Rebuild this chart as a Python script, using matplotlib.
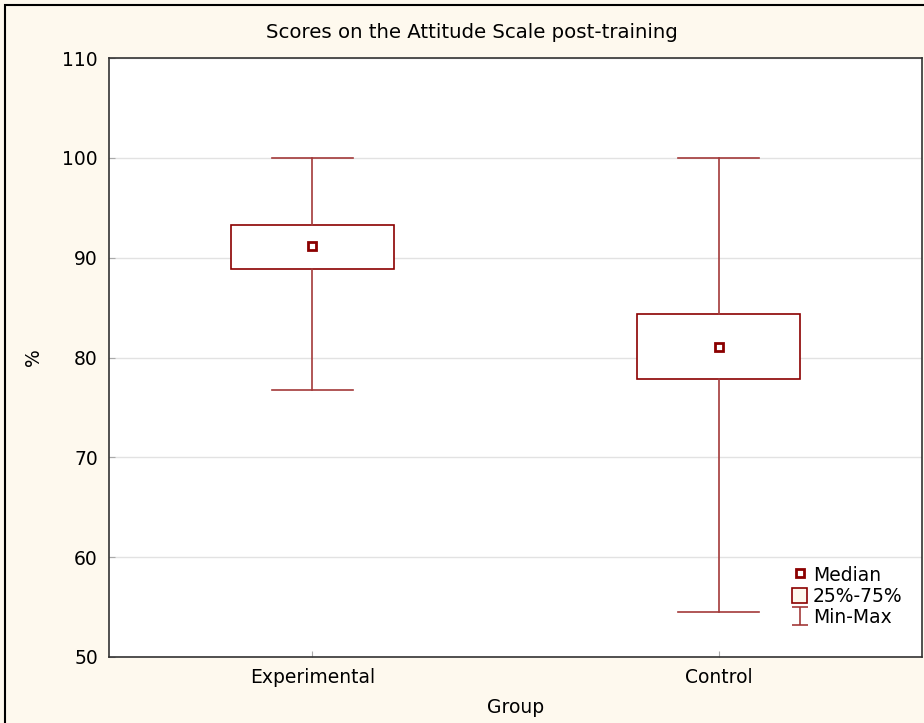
import matplotlib
matplotlib.use("Agg")
import matplotlib.pyplot as plt
from matplotlib.lines import Line2D
from matplotlib.patches import Patch, Rectangle
from matplotlib.path import Path

# Summary statistics per group (% scores)
groups = ["Experimental", "Control"]
minimum = [76.7, 54.5]
q1 = [88.9, 77.8]
median = [91.2, 81.1]
q3 = [93.3, 84.4]
maximum = [100.0, 100.0]

title = "Scores on the Attitude Scale post-training"
xlabel = "Group"
ylabel = "%"
yticks = [50, 60, 70, 80, 90, 100, 110]

RED = "#8B0000"
WHISK = "#A33A3A"
BG = "#FEF9EE"

plt.rcParams["font.family"] = ["DejaVu Sans"]

fig = plt.figure(figsize=(9.24, 7.23), dpi=100, facecolor=BG)
ax = fig.add_axes([109 / 924, 1 - 657 / 723, 813 / 924, 599 / 723])
ax.set_facecolor("white")

# outer frame around the figure
fig.patches.append(Rectangle((5 / 924, -0.1), 1.2, 1 - 5 / 723 + 0.1,
                             transform=fig.transFigure, fill=False,
                             edgecolor="black", linewidth=1.5, zorder=0))

stats = []
for i, g in enumerate(groups):
    stats.append(dict(label=g, whislo=minimum[i], q1=q1[i], med=median[i],
                      q3=q3[i], whishi=maximum[i], fliers=[]))

positions = list(range(len(groups)))
ax.bxp(stats, positions=positions, widths=0.4, showfliers=False,
       patch_artist=True,
       boxprops=dict(facecolor="white", edgecolor=RED, linewidth=1.2),
       whiskerprops=dict(color=WHISK, linewidth=1.2),
       capprops=dict(color=WHISK, linewidth=1.2),
       medianprops=dict(linewidth=0), capwidths=0.2, zorder=3)

ax.plot(positions, median, linestyle="none", marker="s", markersize=6,
        markerfacecolor="white", markeredgecolor=RED, markeredgewidth=2,
        zorder=4)

ax.set_xlim(-0.5, 1.5)
ax.set_ylim(50, 110)
ax.set_yticks(yticks)
ax.set_xticks(positions)
ax.set_xticklabels(groups)
ax.yaxis.grid(True, color="#E2E2E2", linewidth=1)
ax.set_axisbelow(True)
ax.tick_params(axis="both", direction="in", length=4, color="#AAAAAA",
               labelsize=13.5, pad=8)

for side in ["left", "bottom", "top", "right"]:
    ax.spines[side].set_color("#333333")
    ax.spines[side].set_linewidth(1.2)

fig.text(472 / 924, 1 - 33 / 723, title, fontsize=14.2,
         ha="center", va="center")
ax.set_xlabel(xlabel, fontsize=13.5, labelpad=8)
ax.set_ylabel(ylabel, fontsize=13.5, labelpad=14)

# I-beam glyph for the whisker entry
ibeam = Path([(-0.42, -0.5), (0.42, -0.5), (0, -0.5), (0, 0.5),
              (-0.42, 0.5), (0.42, 0.5)],
             [Path.MOVETO, Path.LINETO, Path.MOVETO, Path.LINETO,
              Path.MOVETO, Path.LINETO])
handles = [
    Line2D([], [], linestyle="none", marker="s", markersize=6,
           markerfacecolor="white", markeredgecolor=RED, markeredgewidth=2),
    Patch(facecolor=BG, edgecolor=RED, linewidth=1.2),
    Line2D([], [], linestyle="none", marker=ibeam, markersize=13,
           markeredgecolor=WHISK, markeredgewidth=1.2),
]
ax.legend(handles, ["Median", "25%-75%", "Min-Max"], loc="lower right",
          bbox_to_anchor=(0.992, 0.028), frameon=False, fontsize=13.5,
          handlelength=0.8, handleheight=0.9, handletextpad=0.3,
          labelspacing=0.12, borderpad=0.2)

fig.savefig("out.png", dpi=100, facecolor=BG)
